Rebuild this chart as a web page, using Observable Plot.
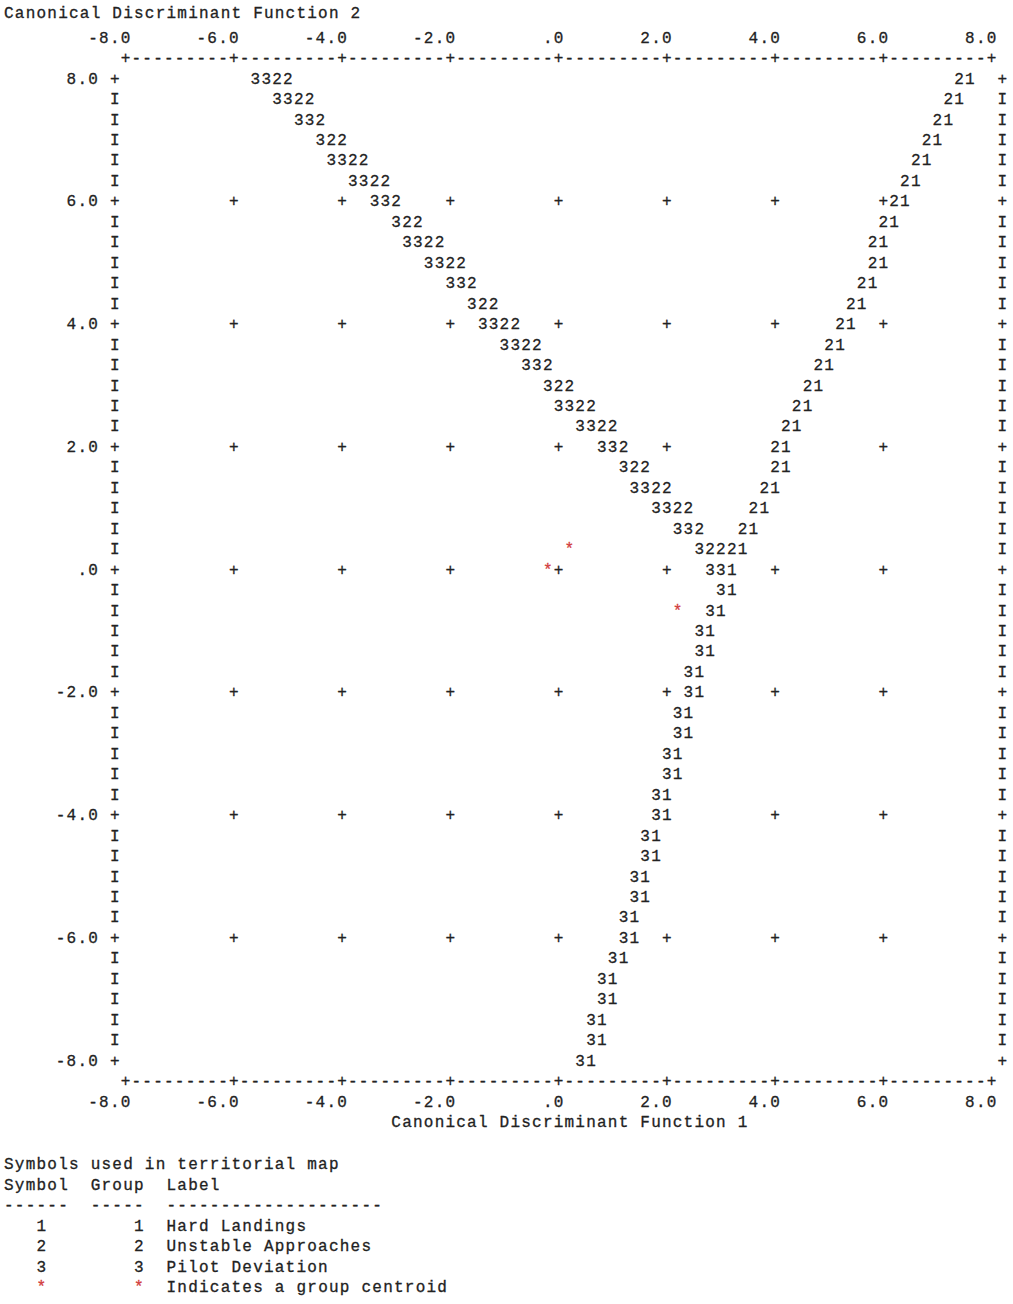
<!DOCTYPE html>
<html>
<head>
<meta charset="utf-8">
<script src="https://cdn.jsdelivr.net/npm/d3@7"></script>
<script src="https://cdn.jsdelivr.net/npm/@observablehq/plot@0.6"></script>
<style>
  html, body { margin: 0; padding: 0; background: #fff; }
  .mono { font-family: "Liberation Mono", "DejaVu Sans Mono", monospace; font-size: 16px; letter-spacing: 1.23px; color: #222; white-space: pre; -webkit-text-stroke: 0.3px #222; }
  #title { height: 24px; line-height: 24px; padding-left: 4px; position: relative; top: 2px; }
  #legend { margin: 19px 0 0 0; padding-left: 4px; line-height: 20.5px; }
  .red { color: #d23c3c; -webkit-text-stroke: 0.3px #d23c3c; }
</style>
</head>
<body>
<div id="title" class="mono"></div>
<div id="chart"></div>
<pre id="legend" class="mono"></pre>
<script>
// ---------------- data ----------------
const xTitle = "Canonical Discriminant Function 1";
const yTitle = "Canonical Discriminant Function 2";
const xTicks = [-8, -6, -4, -2, 0, 2, 4, 6, 8];
const yTicks = [8, 6, 4, 2, 0, -2, -4, -6, -8];

// Territorial map cells: map row (0 = top at 8.0, 3 rows per unit), start column (0 = -8.0, 5 columns per unit)
// Boundary between group 3 and group 2
const b32Row = [0,1,2,3,4,5,6,7,8,9,10,11,12,13,14,15,16,17,18,19,20,21,22,23];
const b32Col = [12,14,16,18,19,21,23,25,26,28,30,32,33,35,37,39,40,42,44,46,47,49,51,53];
const b32Sym = ["3322","3322","332","322","3322","3322","332","322","3322","3322","332","322",
                "3322","3322","332","322","3322","3322","332","322","3322","3322","332","32221"];
// Boundary between group 2 and group 1
const b21Row = [0,1,2,3,4,5,6,7,8,9,10,11,12,13,14,15,16,17,18,19,20,21,22];
const b21Col = [77,76,75,74,73,72,71,70,69,69,68,67,66,65,64,63,62,61,60,60,59,58,57];
const b21Sym = "21";
// Boundary between group 3 and group 1
const b31Row = [24,25,26,27,28,29,30,31,32,33,34,35,36,37,38,39,40,41,42,43,44,45,46,47,48];
const b31Col = [54,55,54,53,53,52,52,51,51,50,50,49,49,48,48,47,47,46,46,45,44,44,43,43,42];
const b31Sym = ["331","31","31","31","31","31","31","31","31","31","31","31","31",
                "31","31","31","31","31","31","31","31","31","31","31","31"];
// Group centroids (function 1, function 2)
const centroidX = [0.2, -0.2, 2.2];
const centroidY = [0.333, 0.0, -0.667];

// Legend
const legendTitle = "Symbols used in territorial map";
const groupSymbol = ["1", "2", "3"];
const groupNumber = ["1", "2", "3"];
const groupLabel = ["Hard Landings", "Unstable Approaches", "Pilot Deviation"];
const centroidNote = "Indicates a group centroid";

// ---------------- build ----------------
const colX = c => -8 + c * 0.2;
const rowY = r => 8 - r / 3;
const tickCol = t => (t + 8) * 5;
const tickRow = t => (8 - t) * 3;
const fmt = d => d === 0 ? ".0" : d.toFixed(1);

const grid = new Map();
const put = (r, c, ch) => grid.set(r + "," + c, {x: colX(c), y: rowY(r), ch});

const xTickCols = new Set(xTicks.map(tickCol));
const yTickRows = new Set(yTicks.map(tickRow));
const firstRow = tickRow(8), lastRow = tickRow(-8);
const firstCol = tickCol(-8), lastCol = tickCol(8);

// borders
for (let c = firstCol; c <= lastCol; c++) {
  const ch = xTickCols.has(c) ? "+" : "-";
  put(firstRow - 1, c, ch);
  put(lastRow + 1, c, ch);
}
for (let r = firstRow; r <= lastRow; r++) {
  const ch = yTickRows.has(r) ? "+" : "I";
  put(r, firstCol - 1, ch);
  put(r, lastCol + 1, ch);
}
// interior grid pluses
for (const t of yTicks) {
  if (Math.abs(t) === 8) continue;
  for (const s of xTicks) {
    if (Math.abs(s) === 8) continue;
    put(tickRow(t), tickCol(s), "+");
  }
}
// boundaries
const putStr = (r, c, str) => [...str].forEach((ch, i) => put(r, c + i, ch));
b32Row.forEach((r, i) => putStr(r, b32Col[i], b32Sym[i]));
b21Row.forEach((r, i) => putStr(r, b21Col[i], b21Sym));
b31Row.forEach((r, i) => putStr(r, b31Col[i], b31Sym[i]));

// tick labels (right-aligned ending at tick column)
const labelCells = [];
const putLabel = (r, cEnd, str) => [...str].forEach((ch, i) =>
  labelCells.push({x: colX(cEnd - (str.length - 1 - i)), y: rowY(r), ch}));
for (const t of xTicks) {
  putLabel(firstRow - 2, tickCol(t), fmt(t));
  putLabel(lastRow + 2, tickCol(t), fmt(t));
}
for (const t of yTicks) putLabel(tickRow(t), firstCol - 3, fmt(t));
// x axis title
[...xTitle].forEach((ch, i) => labelCells.push({x: colX(25 + i), y: rowY(lastRow + 3), ch}));

const cells = [...grid.values()];
const centroids = centroidX.map((x, i) => ({x, y: centroidY[i]}));

const font = "Liberation Mono, DejaVu Sans Mono, monospace";
const ink = "#222";
const chart = Plot.plot({
  width: 1013,
  height: 1112,
  marginLeft: 125,
  marginRight: 22,
  marginTop: 54,
  marginBottom: 76,
  x: {domain: [-8, 8], axis: null},
  y: {domain: [-8, 8], axis: null},
  style: {background: "#fff", fontFamily: font},
  marks: [
    Plot.text(cells, {x: "x", y: "y", text: "ch", fill: ink, stroke: ink, strokeWidth: 0.3, fontSize: 16, fontFamily: font}),
    Plot.text(labelCells, {x: "x", y: "y", text: "ch", fill: ink, stroke: ink, strokeWidth: 0.3, fontSize: 16, fontFamily: font}),
    Plot.text(centroids, {x: "x", y: "y", text: () => "*", fill: "#d23c3c", stroke: "#d23c3c", strokeWidth: 0.3, fontSize: 16, fontFamily: font})
  ]
});
document.getElementById("chart").appendChild(chart);

document.getElementById("title").textContent = yTitle;

const lg = document.getElementById("legend");
let html = legendTitle + "\n" +
  "Symbol  Group  Label\n" +
  "------  -----  --------------------\n";
groupSymbol.forEach((s, i) => {
  html += "   " + s + "        " + groupNumber[i] + "  " + groupLabel[i] + "\n";
});
html += '   <span class="red">*</span>        <span class="red">*</span>  ' + centroidNote;
lg.innerHTML = html;
</script>
</body>
</html>
